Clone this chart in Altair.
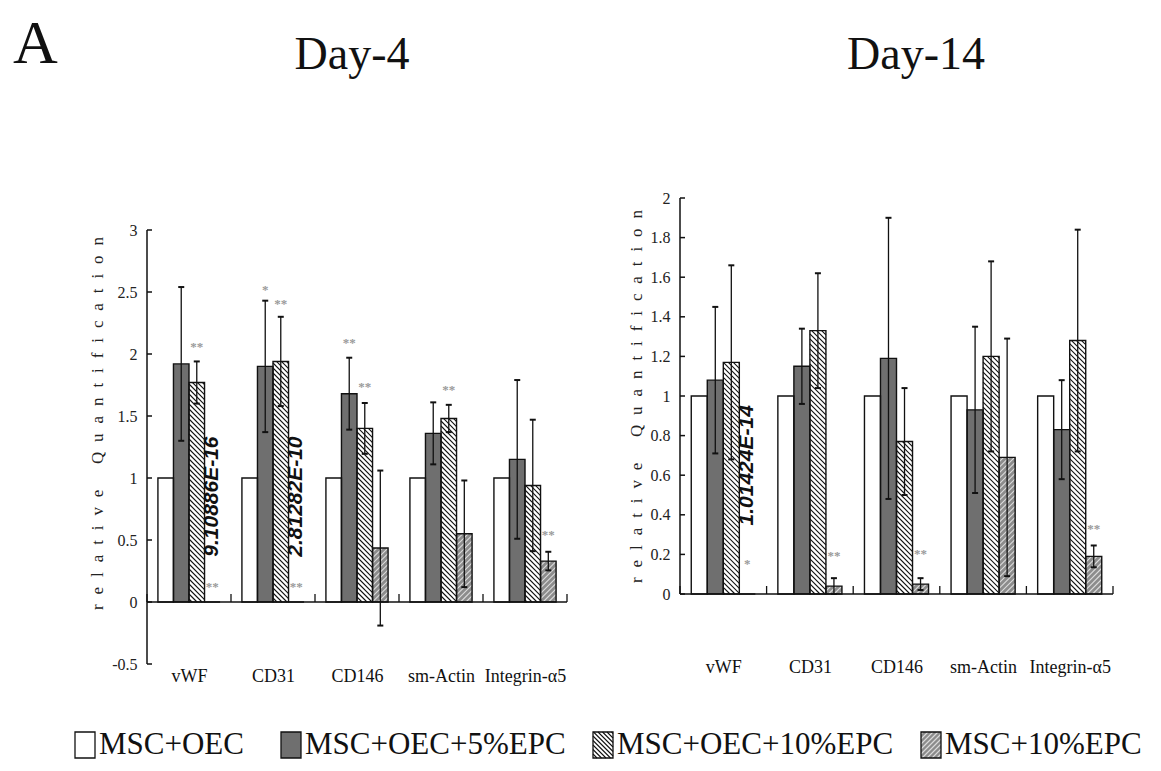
import altair as alt
import pandas as pd
import numpy as np

genes = ["vWF", "CD31", "CD146", "sm-Actin", "Integrin-α5"]
groups = ["MSC+OEC", "MSC+OEC+5%EPC", "MSC+OEC+10%EPC", "MSC+10%EPC"]

# ---- Day-4 values (mean, half error bar) ----
d4_oec = [1, 1, 1, 1, 1]
d4_5 = [1.92, 1.90, 1.68, 1.36, 1.15]
d4_10 = [1.77, 1.94, 1.40, 1.48, 0.94]
d4_m10 = [0.0, 0.0, 0.435, 0.55, 0.33]
d4_5_err = [0.62, 0.53, 0.29, 0.25, 0.64]
d4_10_err = [0.17, 0.36, 0.205, 0.11, 0.53]
d4_m10_err = [0.0, 0.0, 0.625, 0.43, 0.075]
# significance marks: (gene index, series index, label, y)
d4_stars = [(0, 2, "**", 2.06), (0, 3, "**", 0.12), (1, 1, "*", 2.52), (1, 2, "**", 2.40),
            (1, 3, "**", 0.12), (2, 1, "**", 2.09), (2, 2, "**", 1.73), (3, 2, "**", 1.71),
            (4, 3, "**", 0.54)]
d4_notes = [(0, 3, "9.10886E-16", 0.85), (1, 3, "2.81282E-10", 0.85)]

# ---- Day-14 values ----
d14_oec = [1, 1, 1, 1, 1]
d14_5 = [1.08, 1.15, 1.19, 0.93, 0.83]
d14_10 = [1.17, 1.33, 0.77, 1.20, 1.28]
d14_m10 = [0.0, 0.04, 0.05, 0.69, 0.19]
d14_5_err = [0.37, 0.19, 0.71, 0.42, 0.25]
d14_10_err = [0.49, 0.29, 0.27, 0.48, 0.56]
d14_m10_err = [0.0, 0.04, 0.03, 0.60, 0.055]
d14_stars = [(0, 3, "*", 0.15), (1, 3, "**", 0.19), (2, 3, "**", 0.20), (4, 3, "**", 0.33)]
d14_notes = [(0, 3, "1.01424E-14", 0.65)]

SERIF = "Liberation Serif"
BAR_W = 0.185
MARGIN = 0.13
FILLS = ["#ffffff", "#6f6f6f", "#ffffff", "#8c8c8c"]
HATCH_COLORS = ["#111111", "#dcdcdc"]


def hatch(x0, x1, y0, y1, sx, sy, spacing, kind):
    X0, X1, Y0, Y1 = x0 * sx, x1 * sx, y0 * sy, y1 * sy
    segs = []
    if kind == "back":  # "\"  X + Y = c
        k0 = int(np.floor((X0 + Y0) / spacing))
        k1 = int(np.ceil((X1 + Y1) / spacing))
        for k in range(k0, k1 + 1):
            c = k * spacing
            xa, xb = max(X0, c - Y1), min(X1, c - Y0)
            if xb - xa > 0.3:
                segs.append((xa / sx, xb / sx, (c - xa) / sy, (c - xb) / sy))
    else:  # "/"  Y - X = c
        k0 = int(np.floor((Y0 - X1) / spacing))
        k1 = int(np.ceil((Y1 - X0) / spacing))
        for k in range(k0, k1 + 1):
            c = k * spacing
            xa, xb = max(X0, Y0 - c), min(X1, Y1 - c)
            if xb - xa > 0.3:
                segs.append((xa / sx, xb / sx, (xa + c) / sy, (xb + c) / sy))
    return segs


def panel(series, errs, stars, notes, ydom, yaxis_range, yticks, W, H, title, title_pos,
          top_marker, xlab_pad, ylab_pad, ytitle, ytitle_pad, ytitle_y, extra=None):
    sx = W / 5.0
    sy = H / (ydom[1] - ydom[0])
    xs = alt.Scale(domain=[0, 5], nice=False, zero=False)
    ys = alt.Scale(domain=ydom, nice=False, zero=False)
    xaxis = alt.Axis(values=[0.5, 1.5, 2.5, 3.5, 4.5], domain=False, ticks=False, grid=False,
                     labelExpr="%s[floor(datum.value)]" % str(genes).replace("'", '"'),
                     labelFont=SERIF, labelFontSize=18, labelColor="#111", labelPadding=xlab_pad,
                     title=None, labelAngle=0)
    yaxis = alt.Axis(values=yticks, domain=False, ticks=False, grid=False,
                     labelExpr="'' + datum.value",
                     labelFont=SERIF, labelFontSize=16, labelColor="#222", labelPadding=ylab_pad,
                     title=ytitle, titleFont=SERIF, titleFontSize=17, titleFontWeight="normal",
                     titleColor="#222", titlePadding=ytitle_pad, titleY=ytitle_y)

    def X(f):
        return alt.X(f, type="quantitative", scale=xs, axis=xaxis)

    def Y(f):
        return alt.Y(f, type="quantitative", scale=ys, axis=yaxis)

    bars, hat, err, caps, st, nt = [], [], [], [], [], []
    for s, (vals, e) in enumerate(zip(series, errs)):
        for g, v in enumerate(vals):
            x0 = g + MARGIN + s * BAR_W
            x1 = x0 + BAR_W
            xc = (x0 + x1) / 2
            bars.append(dict(x=x0, x2=x1, y=0.0, y2=v, series=groups[s]))
            if s == 2 and v > 0:
                for a, b, c, d in hatch(x0, x1, 0, v, sx, sy, 5.0, "back"):
                    hat.append(dict(x=a, x2=b, y=c, y2=d, kind="k"))
            if s == 3 and v > 0:
                for a, b, c, d in hatch(x0, x1, 0, v, sx, sy, 5.5, "fwd"):
                    hat.append(dict(x=a, x2=b, y=c, y2=d, kind="w"))
            if e is not None and e[g] > 0:
                lo, hi = v - e[g], v + e[g]
                err.append(dict(x=xc, y=lo, y2=hi))
                dx = 3.0 / sx
                caps.append(dict(x=xc - dx, x2=xc + dx, y=hi))
                caps.append(dict(x=xc - dx, x2=xc + dx, y=lo))
    for g, s, lab, yv in stars:
        st.append(dict(x=g + MARGIN + (s + 0.5) * BAR_W, y=yv, t=lab))
    for g, s, lab, yv in notes:
        nt.append(dict(x=g + MARGIN + (s + 0.5) * BAR_W, y=yv, t=lab))

    dfb = pd.DataFrame(bars)
    base_rect = alt.Chart(dfb).mark_rect(stroke=None).encode(
        x=X("x"), x2="x2", y=Y("y"), y2="y2",
        fill=alt.Fill("series:N", scale=alt.Scale(domain=groups, range=FILLS), legend=None))
    hat_layer = alt.Chart(pd.DataFrame(hat)).mark_rule(strokeWidth=1.1).encode(
        x=X("x"), x2="x2", y=Y("y"), y2="y2",
        color=alt.Color("kind:N", scale=alt.Scale(domain=["k", "w"], range=HATCH_COLORS),
                        legend=None))
    outline = alt.Chart(dfb).mark_rect(fill=None, stroke="#111", strokeWidth=1.4).encode(
        x=X("x"), x2="x2", y=Y("y"), y2="y2")
    err_layer = alt.Chart(pd.DataFrame(err)).mark_rule(color="#111", strokeWidth=1.3).encode(
        x=X("x"), y=Y("y"), y2="y2")
    cap_layer = alt.Chart(pd.DataFrame(caps)).mark_rule(color="#111", strokeWidth=2).encode(
        x=X("x"), x2="x2", y=Y("y"))
    # axis lines (x at zero, y over the tick range) and the inward ticks
    xline = alt.Chart(pd.DataFrame([dict(x=0, x2=5, y=0)])).mark_rule(
        color="#111", strokeWidth=1.5).encode(x=X("x"), x2="x2", y=Y("y"))
    yline = alt.Chart(pd.DataFrame([dict(x=0, y=yaxis_range[0], y2=yaxis_range[1])])).mark_rule(
        color="#111", strokeWidth=1.5).encode(x=X("x"), y=Y("y"), y2="y2")
    xt = pd.DataFrame([dict(x=k, y=0, y2=8.0 / sy) for k in range(6)])
    xticks = alt.Chart(xt).mark_rule(color="#111", strokeWidth=1.3).encode(
        x=X("x"), y=Y("y"), y2="y2")
    yt = pd.DataFrame([dict(x=0, x2=5.0 / sx, y=v) for v in yticks])
    yticks_l = alt.Chart(yt).mark_rule(color="#111", strokeWidth=1.5).encode(
        x=X("x"), x2="x2", y=Y("y"))
    star_layer = alt.Chart(pd.DataFrame(st)).mark_text(
        font=SERIF, fontSize=13, color="#9a9a9a", baseline="middle", fontWeight="bold").encode(
        x=X("x"), y=Y("y"), text="t:N")
    note_layer = alt.Chart(pd.DataFrame(nt)).mark_text(
        font="Liberation Sans", fontSize=21, fontWeight="bold", fontStyle="italic", angle=270,
        color="#111", baseline="middle", align="center").encode(
        x=X("x"), y=Y("y"), text="t:N")
    one = pd.DataFrame({"t": [title]})
    title_layer = alt.Chart(one).mark_text(
        font=SERIF, fontSize=46, color="#111", align="center", baseline="alphabetic").encode(
        x=alt.value(title_pos[0]), y=alt.value(title_pos[1]), text="t:N")
    # white marker that fixes the top edge of the panel's bounds
    marker = alt.Chart(one).mark_rule(color="white", strokeWidth=1).encode(
        x=alt.value(0), x2=alt.value(2), y=alt.value(top_marker))

    layers = [base_rect, hat_layer, outline, err_layer, cap_layer, xline, yline, xticks,
              yticks_l, star_layer, note_layer, title_layer, marker]
    if extra is not None:
        layers.extend(extra)
    return alt.layer(*layers).properties(width=W, height=H)


def spaced(s):
    words = s.split(" ")
    return "\u2003\u2002".join("\u2002\u200a".join(w) for w in words)


ytitle = spaced("relative Quantification")

a_df = pd.DataFrame({"t": ["A"]})
a_text = alt.Chart(a_df).mark_text(font=SERIF, fontSize=62, align="left", baseline="alphabetic",
                                   color="#111").encode(
    x=alt.value(-134), y=alt.value(-135), text="t:N")
# white marker that fixes the left edge of the whole figure
left_marker = alt.Chart(a_df).mark_rule(color="white", strokeWidth=1).encode(
    x=alt.value(-138), y=alt.value(0), y2=alt.value(2))

# left panel: plot area starts 32 px above the "3" tick so both panels share a top edge
left = panel([d4_oec, d4_5, d4_10, d4_m10], [None, d4_5_err, d4_10_err, d4_m10_err],
             d4_stars, d4_notes, [-0.5, 3 + 32 / 124.0], [-0.5, 3],
             [-0.5, 0, 0.5, 1, 1.5, 2, 2.5, 3],
             420, 466, "Day-4", (205, -129), -189, 3, 10, ytitle, 5, 225,
             extra=[a_text, left_marker])

right = panel([d14_oec, d14_5, d14_10, d14_m10], [None, d14_5_err, d14_10_err, d14_m10_err],
              d14_stars, d14_notes, [0, 2], [0, 2],
              [0, 0.2, 0.4, 0.6, 0.8, 1, 1.2, 1.4, 1.6, 1.8, 2],
              433, 396, "Day-14", (236, -129), -189, 64, 10, ytitle, 5, 198)

# ---- legend panel (drawn with marks so that the hatch patterns can be shown) ----
LW, LH = 990, 26
leg_sym_x = [-72, 134, 446, 774]   # layout positions of the swatches (left plot origin = 0)
lrect, lhat, ltext = [], [], []
for i, g in enumerate(groups):
    x0 = leg_sym_x[i]
    lrect.append(dict(x=x0, x2=x0 + 20, y=0.0, y2=1.0, series=g))
    ltext.append(dict(x=x0 + 24, y=0.5, t=g))
    if i == 2:
        for a, b, c, d in hatch(x0, x0 + 20, 0.0, 1.0, 1, LH, 4.5, "back"):
            lhat.append(dict(x=a, x2=b, y=c, y2=d, kind="k"))
    if i == 3:
        for a, b, c, d in hatch(x0, x0 + 20, 0.0, 1.0, 1, LH, 5.0, "fwd"):
            lhat.append(dict(x=a, x2=b, y=c, y2=d, kind="w"))
lxs = alt.Scale(domain=[0, LW], nice=False, zero=False)
lys = alt.Scale(domain=[0, 1], nice=False, zero=False)


def LX(f):
    return alt.X(f, type="quantitative", scale=lxs, axis=None)


def LY(f):
    return alt.Y(f, type="quantitative", scale=lys, axis=None)


dlr = pd.DataFrame(lrect)
leg = alt.layer(
    alt.Chart(dlr).mark_rect(stroke=None).encode(
        x=LX("x"), x2="x2", y=LY("y"), y2="y2",
        fill=alt.Fill("series:N", scale=alt.Scale(domain=groups, range=FILLS), legend=None)),
    alt.Chart(pd.DataFrame(lhat)).mark_rule(strokeWidth=1.1).encode(
        x=LX("x"), x2="x2", y=LY("y"), y2="y2",
        color=alt.Color("kind:N", scale=alt.Scale(domain=["k", "w"], range=HATCH_COLORS),
                        legend=None)),
    alt.Chart(dlr).mark_rect(fill=None, stroke="#111", strokeWidth=1.3).encode(
        x=LX("x"), x2="x2", y=LY("y"), y2="y2"),
    alt.Chart(pd.DataFrame(ltext)).mark_text(font=SERIF, fontSize=31, align="left",
                                            baseline="middle", color="#111").encode(
        x=LX("x"), y=LY("y"), text="t:N"),
).properties(width=LW, height=LH)

chart = alt.vconcat(
    alt.hconcat(left, right, spacing=59),
    leg, spacing=44
).properties(padding={"left": 0, "top": 0, "right": 0, "bottom": 0},
             background="white").configure_view(stroke=None)

chart.save("out.html", embed_options={"renderer": "svg", "actions": False})
